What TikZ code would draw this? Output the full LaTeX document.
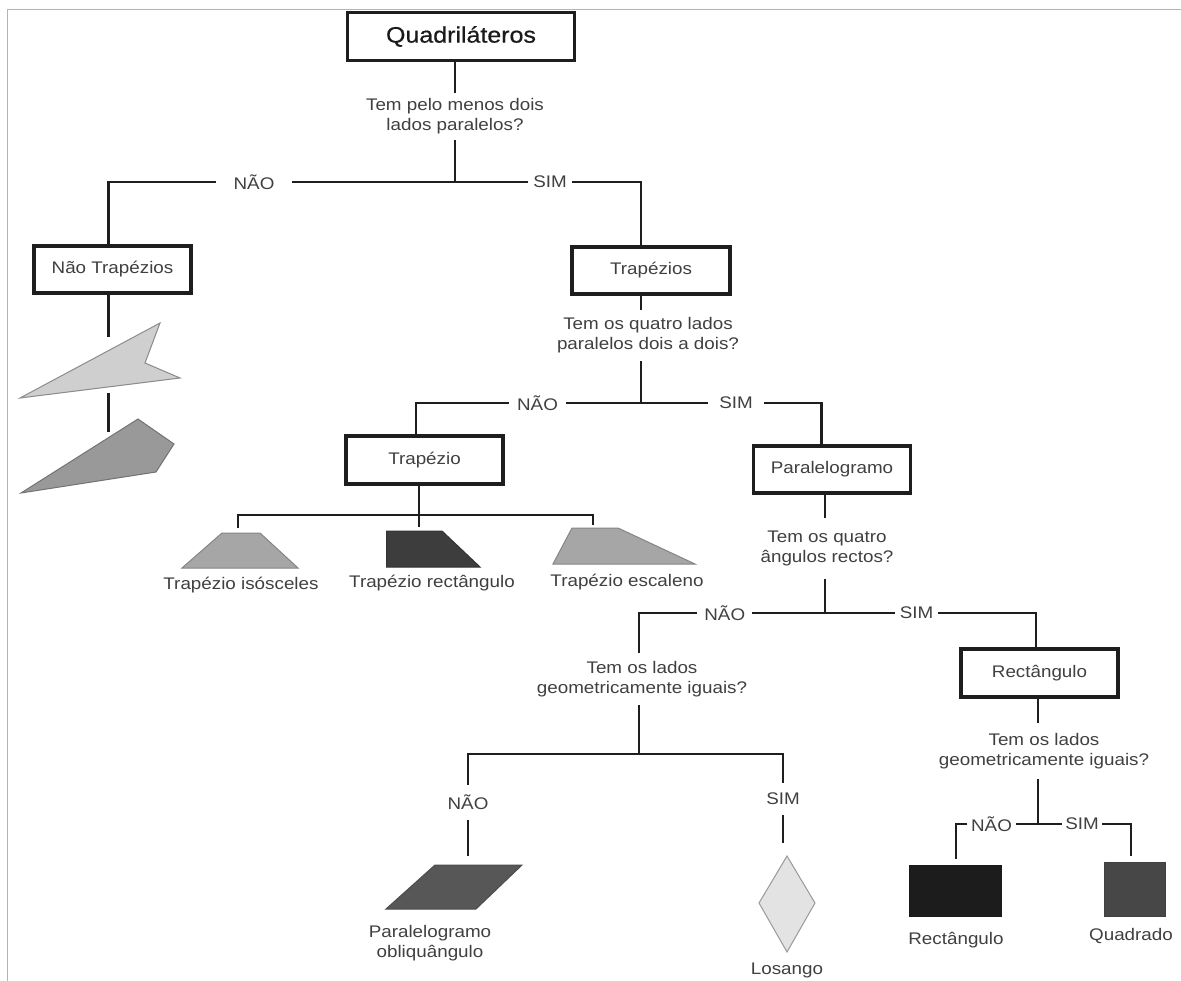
\documentclass[tikz,border=0pt]{standalone}
\usepackage{fontspec}
\setmainfont{Liberation Sans}[FakeStretch=1.12]
\newfontfamily\titlefamily{Liberation Sans}[FakeStretch=1.12, FakeBold=0.6]
\definecolor{linec}{HTML}{1E1E1E}
\definecolor{txtc}{HTML}{404040}
\definecolor{titlec}{HTML}{1A1A1A}
\definecolor{framec}{HTML}{B4B4B4}
\newcommand\txtsize{\fontsize{16.8}{19.8}\selectfont}
\newcommand\titlesize{\titlefamily\fontsize{22.3}{26}\selectfont}
\begin{document}
\begin{tikzpicture}[x=1pt,y=-1pt,
  wire/.style={draw=linec, line width=2.7pt},
  box/.style={draw=linec, line width=3.2pt, minimum width=157pt, minimum height=47pt,
    inner sep=0pt, text=txtc, font=\txtsize},
  quest/.style={align=center, inner sep=0pt, text=txtc, font=\txtsize},
  ans/.style={inner sep=0pt, text=txtc, font=\txtsize},
  caption/.style={align=center, inner sep=0pt, text=txtc, font=\txtsize},
  figure/.style={line width=1pt, line join=miter}]

\fill[white] (0,0) rectangle (1181,981);
\useasboundingbox (0,0) rectangle (1181,981);
\draw[framec, line width=1.3pt] (7.5,981) -- (7.5,9.5) -- (1181,9.5);

% ---------- level 1 ----------
\node[box, minimum width=226.5pt, minimum height=48.4pt, font=\titlesize, text=titlec] (quad) at (461,36.5) {Quadriláteros};
\node[quest, minimum height=47.3pt] (q1) at (455,116.4) {Tem pelo menos dois\\lados paralelos?};
\coordinate (j1) at (455,182);
\node[ans, inner xsep=17pt] (n1) at (254,182) {NÃO};
\node[ans, inner xsep=5pt] (s1) at (550,182) {SIM};
\node[box] (ntrap) at (112.5,269.5) {Não Trapézios};
\node[box, minimum width=158pt] (traps) at (651,270.5) {Trapézios};

\draw[wire] (q1.north |- quad.south) -- (q1.north);
\draw[wire] (q1.south) -- (j1);
\draw[wire] (j1) -- (n1.east);
\draw[wire] (j1) -- (s1.west);
\draw[wire] (n1.west) -| ([xshift=-4pt]ntrap.north);
\draw[wire] (s1.east) -| ([xshift=-10pt]traps.north);

% ---------- non-trapezoids ----------
\coordinate (nt1) at (108.5,337);
\coordinate (nt2) at (108.5,393);
\coordinate (nt3) at (108.5,432);
\draw[wire] ([xshift=-4pt]ntrap.south) -- (nt1);
\draw[wire] (nt2) -- (nt3);
\filldraw[figure, fill=black!19, draw=black!45] (20,398) -- (160,323) -- (145,363) -- (180,378) -- cycle;
\filldraw[figure, fill=black!40, draw=black!55] (21,493) -- (138,419) -- (174,444) -- (156,472) -- cycle;

% ---------- trapezoids ----------
\node[quest, minimum height=51pt] (q2) at (648,335.5) {Tem os quatro lados\\paralelos dois a dois?};
\coordinate (j2) at (641,403);
\draw[wire] ([xshift=-10pt]traps.south) -- (j2 |- q2.north);
\draw[wire] (j2 |- q2.south) -- (j2);
\node[ans, inner xsep=8pt] (n2) at (537.5,403) {NÃO};
\node[ans, inner xsep=11pt] (s2) at (736,403) {SIM};
\node[box, minimum height=48pt] (trap) at (424.5,460) {Trapézio};
\node[box, minimum width=156.4pt] (para) at (832,469.5) {Paralelogramo};
\draw[wire] (j2) -- (n2.east);
\draw[wire] (j2) -- (s2.west);
\draw[wire] (n2.west) -| ([xshift=-8.5pt]trap.north);
\draw[wire] (s2.east) -| ([xshift=-10.5pt]para.north);

\coordinate (j3) at (419,515);
\coordinate (t1top) at (238,528);
\coordinate (t2top) at (419,527);
\coordinate (t3top) at (593,525);
\draw[wire] (j3 |- trap.south) -- (t2top);
\draw[wire] (t1top) -- (t1top |- j3) -- (t3top |- j3) -- (t3top);

\filldraw[figure, fill=black!35, draw=black!48] (182,568) -- (298,568) -- (260,533) -- (222,533) -- cycle;
\filldraw[figure, fill=black!76, draw=black!80] (386.5,531) -- (442,531) -- (480,567) -- (386.5,567) -- cycle;
\filldraw[figure, fill=black!35, draw=black!48] (553,564) -- (572,528) -- (618,528) -- (695,564) -- cycle;
\node[caption] (c1) at (241,585) {Trapézio isósceles};
\node[caption] (c2) at (432,583) {Trapézio rectângulo};
\node[caption] (c3) at (627,582) {Trapézio escaleno};

% ---------- parallelograms ----------
\node[quest, minimum height=61pt] (q3) at (827,548.5) {Tem os quatro\\ângulos rectos?};
\coordinate (j4) at (825,613);
\draw[wire] ([xshift=-7pt]para.south) -- (j4 |- q3.north);
\draw[wire] (j4 |- q3.south) -- (j4);
\node[ans, inner xsep=7pt] (n3) at (724.75,613) {NÃO};
\node[ans, inner xsep=4.8pt] (s3) at (916.5,613) {SIM};
\node[quest, minimum height=52pt] (q4) at (642,679) {Tem os lados\\geometricamente iguais?};
\node[box, minimum height=48pt] (rect) at (1039.5,673) {Rectângulo};
\draw[wire] (j4) -- (n3.east);
\draw[wire] (j4) -- (s3.west);
\draw[wire] (n3.west) -| ([xshift=-3pt]q4.north);
\draw[wire] (s3.east) -| ([xshift=-3.5pt]rect.north);

% oblique parallelogram / rhombus
\coordinate (j5) at (639,754);
\draw[wire] (j5 |- q4.south) -- (j5);
\node[ans, minimum height=35pt] (n4) at (468,802.5) {NÃO};
\node[ans, minimum height=32pt] (s4) at (783,799) {SIM};
\draw[wire] (n4.north) |- (j5) -| (s4.north);
\coordinate (pg) at (468,856);
\coordinate (lo) at (783,843);
\draw[wire] (n4.south) -- (pg);
\draw[wire] (s4.south) -- (lo);
\filldraw[figure, fill=black!66, draw=black!70] (386,909) -- (435,865) -- (522,865) -- (476,909) -- cycle;
\filldraw[figure, fill=black!11, draw=black!40] (787,856) -- (815,903) -- (787,952) -- (759,903) -- cycle;
\node[caption] (c4) at (430,943) {Paralelogramo\\obliquângulo};
\node[caption] (c5) at (787,970) {Losango};

% rectangle / square
\node[quest, minimum height=55.5pt] (q5) at (1044,751.3) {Tem os lados\\geometricamente iguais?};
\coordinate (j6) at (1038,824);
\draw[wire] ([xshift=-1.5pt]rect.south) -- (j6 |- q5.north);
\draw[wire] (j6 |- q5.south) -- (j6);
\node[ans, inner xsep=3.6pt] (n5) at (991.5,824) {NÃO};
\node[ans, inner xsep=3.3pt] (s5) at (1082,824) {SIM};
\coordinate (r1) at (956,859);
\coordinate (r2) at (1131,856);
\draw[wire] (j6) -- (n5.east);
\draw[wire] (n5.west) -| (r1);
\draw[wire] (j6) -- (s5.west);
\draw[wire] (s5.east) -| (r2);
\filldraw[figure, fill=black!89, draw=black!90] (909.6,865) rectangle (1001,916);
\filldraw[figure, fill=black!72, draw=black!75] (1104,862) rectangle (1165,916);
\node[caption] (c6) at (956,940) {Rectângulo};
\node[caption] (c7) at (1131,936) {Quadrado};
\end{tikzpicture}
\end{document}
